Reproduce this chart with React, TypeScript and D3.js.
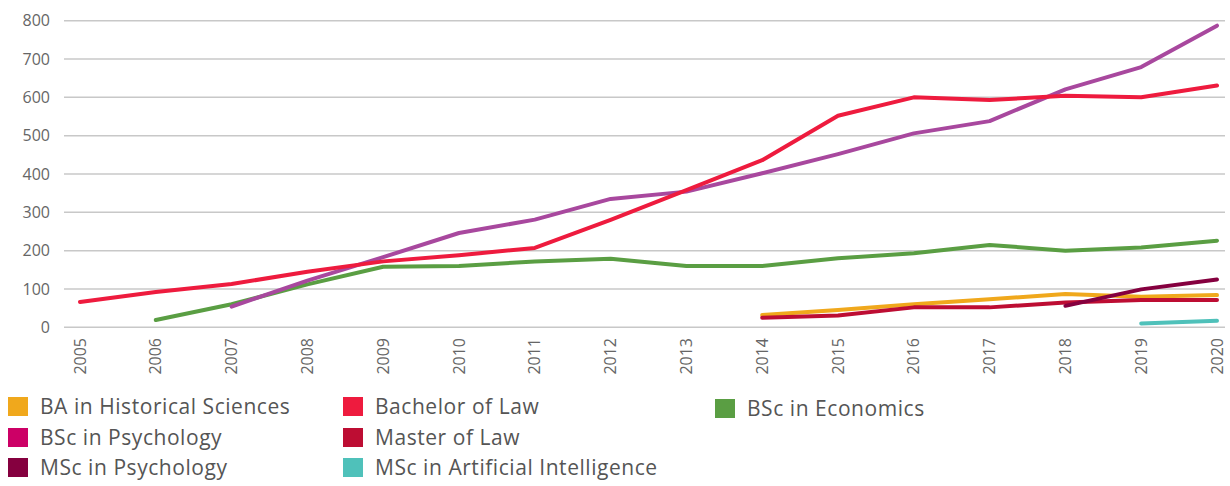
import React from "react";
import * as d3 from "d3";

const years = [2005, 2006, 2007, 2008, 2009, 2010, 2011, 2012, 2013, 2014, 2015, 2016, 2017, 2018, 2019, 2020];
const yTicks = [0, 100, 200, 300, 400, 500, 600, 700, 800];

// values per year (null = no data)
const baHistorical = [null, null, null, null, null, null, null, null, null, 32, 45, 60, 73, 87, 80, 84];
const bachelorLaw = [66, 92, 113, 145, 172, 188, 207, 280, 358, 436, 552, 600, 593, 604, 600, 631];
const bscEconomics = [null, 19, 60, 112, 158, 160, 172, 179, 160, 160, 180, 193, 215, 200, 208, 226];
const bscPsychology = [null, null, 54, 122, 183, 246, 281, 335, 354, 402, 452, 506, 538, 621, 679, 787];
const masterLaw = [null, null, null, null, null, null, null, null, null, 25, 31, 52, 52, 65, 71, 71];
const mscPsychology = [null, null, null, null, null, null, null, null, null, null, null, null, null, 56, 99, 125];
const mscAI = [null, null, null, null, null, null, null, null, null, null, null, null, null, null, 10, 17];

const seriesNames = [
  "BA in Historical Sciences",
  "Bachelor of Law",
  "BSc in Economics",
  "BSc in Psychology",
  "Master of Law",
  "MSc in Psychology",
  "MSc in Artificial Intelligence",
];

const lineColors = ["#F0A81C", "#EE1B3E", "#5A9E43", "#A8489E", "#BD0D33", "#85003F", "#4FC1BA"];
const swatchColors = ["#F0A81C", "#EE1B3E", "#5A9E43", "#CC0066", "#BD0D33", "#85003F", "#4FC1BA"];
const seriesValues = [baHistorical, bachelorLaw, bscEconomics, bscPsychology, masterLaw, mscPsychology, mscAI];

// draw order (back to front)
const drawOrder = [2, 0, 4, 5, 6, 3, 1];

// legend layout: [seriesIndex, col, row]
const legendLayout: [number, number, number][] = [
  [0, 0, 0],
  [1, 1, 0],
  [2, 2, 0],
  [3, 0, 1],
  [4, 1, 1],
  [5, 0, 2],
  [6, 1, 2],
];

export default function App() {
  const W = 1230;
  const H = 486;
  const x = d3.scaleLinear().domain([2005, 2020]).range([80, 1217]);
  const y = d3.scaleLinear().domain([0, 800]).range([327.3, 20.7]);

  const line = d3
    .line<number | null>()
    .defined((d) => d !== null)
    .x((_, i) => x(years[i]))
    .y((d) => y(d as number));

  const colX = [8, 343, 715];
  const colYOffset = [0, 0, 2];
  const rowY = [397, 428, 458];

  return (
    <svg width={W} height={H} style={{ position: "absolute", left: 0, top: 0, background: "#fff" }}>
      <g>
        {yTicks.map((t) => (
          <g key={t}>
            <line x1={64} x2={1225} y1={y(t)} y2={y(t)} stroke="#C8C8C8" strokeWidth={1.5} />
            <text
              x={50}
              y={y(t)}
              dy="0.35em"
              textAnchor="end"
              fontFamily="'Open Sans', sans-serif"
              fontSize={16}
              fill="#666"
            >
              {t}
            </text>
          </g>
        ))}
      </g>
      <g>
        {years.map((yr) => (
          <text
            key={yr}
            transform={`translate(${x(yr)},338) rotate(-90)`}
            textAnchor="end"
            dy="0.35em"
            fontFamily="'Open Sans', sans-serif"
            fontSize={16}
            fill="#666"
          >
            {yr}
          </text>
        ))}
      </g>
      <g>
        {drawOrder.map((si) => (
          <path
            key={si}
            d={line(seriesValues[si]) || ""}
            fill="none"
            stroke={lineColors[si]}
            strokeWidth={4}
            strokeLinejoin="round"
            strokeLinecap="round"
          />
        ))}
      </g>
      <g>
        {legendLayout.map(([si, col, row]) => {
          const top = rowY[row] + colYOffset[col];
          return (
            <g key={si}>
              <rect x={colX[col]} y={top} width={20} height={19} fill={swatchColors[si]} />
              <text
                x={colX[col] + 32}
                y={top + 17}
                fontFamily="'Open Sans', sans-serif"
                fontSize={21}
                letterSpacing={0.55}
                fill="#555"
              >
                {seriesNames[si]}
              </text>
            </g>
          );
        })}
      </g>
    </svg>
  );
}
